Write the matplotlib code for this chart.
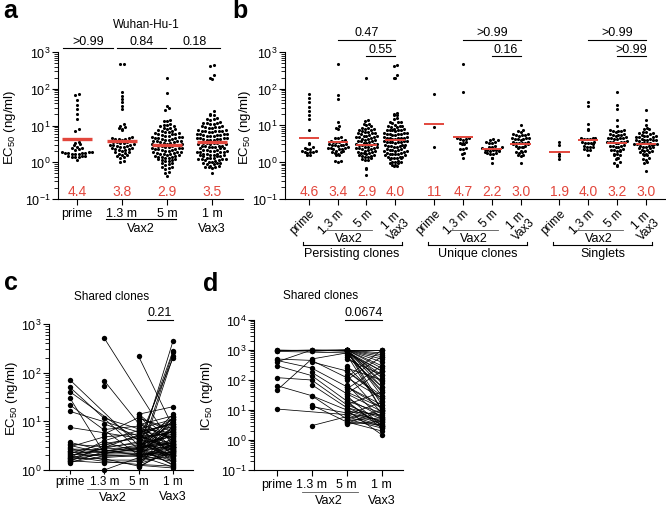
import numpy as np
import matplotlib
matplotlib.use("Agg")
import matplotlib.pyplot as plt
from matplotlib import transforms
from matplotlib.ticker import LogLocator

plt.rcParams['font.family'] = ['Liberation Sans', 'DejaVu Sans']
plt.rcParams['mathtext.fontset'] = 'custom'
plt.rcParams['mathtext.rm'] = 'Liberation Sans'
plt.rcParams['mathtext.it'] = 'Liberation Sans:italic'
plt.rcParams['mathtext.bf'] = 'Liberation Sans:bold'

W, H = 666, 506
nan = np.nan
RED = '#e2463c'

# ---- panel a: Wuhan-Hu-1 EC50 (ng/ml)
a_prime = [70, 68, 50, 37, 28, 20.5, 15, 7.8, 7.3, 3.5, 3.3, 3.15, 3.0, 2.55, 2.45, 2.4, 2.3, 2.2,
           1.95, 1.9, 1.85, 1.82, 1.8, 1.78, 1.75, 1.72, 1.7, 1.68, 1.52, 1.48, 1.45, 1.42, 1.4, 1.38, 1.15]
a_13m = [480, 460, 80, 65, 53, 43, 35, 28, 11, 10, 9, 8.5, 8, 7.5,
         4.9, 4.7, 4.6, 4.4, 4.3, 4.2, 4.1, 3.9, 3.8, 3.7, 3.6, 3.5, 3.45, 3.4, 3.3,
         3.1, 3.0, 2.95, 2.9, 2.8, 2.7, 2.65, 2.6, 2.45, 2.4, 2.35, 2.3, 2.2, 2.1, 2.05,
         1.95, 1.9, 1.8, 1.7, 1.6, 1.55, 1.45, 1.4, 1.3, 1.05, 1.0]
a_5m = [200, 76, 33, 30, 27, 14, 13.5, 13, 11, 10.6, 10.2, 9.9, 9.6, 8.6, 8.3, 8.0, 7.8, 7.5, 7.3,
        6.9, 6.7, 6.5, 6.3, 6.2, 6.0, 5.9, 5.8, 5.5, 5.3, 5.2, 5.0, 4.9, 4.8, 4.7, 4.6, 4.5,
        4.3, 4.2, 4.1, 4.0, 3.9, 3.8, 3.75, 3.7, 3.6, 3.55, 3.4, 3.3, 3.2, 3.15, 3.05, 3.0, 2.95, 2.9, 2.85, 2.8,
        2.7, 2.6, 2.55, 2.5, 2.45, 2.4, 2.35, 2.3, 2.25, 2.2, 2.1, 2.05, 2.0, 1.95, 1.9, 1.85, 1.8, 1.75, 1.72, 1.7,
        1.65, 1.6, 1.55, 1.5, 1.45, 1.42, 1.4, 1.36, 1.33, 1.28, 1.24, 1.2, 1.16, 1.12, 1.08, 1.05,
        0.98, 0.93, 0.88, 0.84, 0.76, 0.72, 0.68, 0.64, 0.55, 0.52, 0.43]
a_1m = [430, 410, 230, 200, 190, 25, 20.5, 19.5, 18.8, 15.8, 15.2, 14.8, 14.4, 12.4, 12.0, 11.7, 11.4, 11.1, 10.8,
        9.8, 9.5, 9.3, 9.1, 8.9, 8.7, 8.5, 7.7, 7.5, 7.3, 7.2, 7.1, 7.0, 6.9, 6.8, 6.6,
        6.0, 5.9, 5.8, 5.7, 5.6, 5.5, 5.4, 5.3, 5.2, 5.1, 4.7, 4.6, 4.5, 4.45, 4.4, 4.3, 4.2, 4.15, 4.1, 4.0,
        3.6, 3.5, 3.45, 3.4, 3.35, 3.3, 3.25, 3.2, 3.1, 3.05, 2.85, 2.8, 2.75, 2.7, 2.65, 2.6, 2.55, 2.5, 2.45, 2.4,
        2.2, 2.15, 2.1, 2.05, 2.0, 1.98, 1.95, 1.92, 1.9, 1.88, 1.72, 1.68, 1.65, 1.62, 1.6, 1.58, 1.55, 1.52, 1.5, 1.48,
        1.33, 1.3, 1.28, 1.25, 1.23, 1.21, 1.19, 1.17, 1.15, 1.05, 1.02, 1.0, 0.98, 0.96, 0.94, 0.92, 0.9,
        0.8, 0.78, 0.76, 0.74, 0.72, 0.7, 0.51]
a_cols = [a_prime, a_13m, a_5m, a_1m]
a_gm = ["4.4", "3.8", "2.9", "3.5"]
a_p = [">0.99", "0.84", "0.18"]

# ---- panel b: persisting / unique / singlets
b_pers_prime = [70, 55, 42, 32, 25, 19, 15, 7.5, 3.3, 3.1, 2.5, 2.4, 2.3, 2.2, 1.98, 1.95, 1.9, 1.85, 1.82, 1.8, 1.55, 1.5]
b_pers_13m = [480, 65, 52, 12, 9.5, 8.2, 7.8, 4.8, 4.6, 4.4, 3.9, 3.8, 3.7, 3.6, 3.5, 3.4, 3.1, 3.0, 2.95, 2.9,
              2.85, 2.8, 2.75, 2.5, 2.45, 2.4, 2.35, 2.3, 2.25, 2.2, 2.0, 1.95, 1.9, 1.85, 1.8, 1.6, 1.55, 1.5,
              1.08, 1.05, 1.02]
b_pers_5m = [200, 14, 13, 11, 10.6, 10.2, 9.8, 8.6, 8.3, 8.0, 7.8, 7.5, 7.3, 6.8, 6.6, 6.4, 6.3, 6.1, 6.0, 5.8,
             5.4, 5.2, 5.1, 5.0, 4.9, 4.8, 4.7, 4.6, 4.2, 4.1, 4.0, 3.9, 3.8, 3.75, 3.7, 3.6, 3.3, 3.2, 3.1, 3.05,
             3.0, 2.95, 2.9, 2.85, 2.6, 2.55, 2.5, 2.45, 2.4, 2.35, 2.3, 2.25, 2.05, 2.0, 1.95, 1.9, 1.85, 1.8,
             1.75, 1.7, 1.6, 1.55, 1.5, 1.45, 1.42, 1.38, 1.35, 1.25, 1.2, 1.15, 1.12, 0.66, 0.63, 0.45]
b_pers_1m = [430, 410, 230, 200, 195, 21, 20, 19.5, 19, 15.5, 15, 12.5, 12.2, 12, 11.7, 10, 9.8, 9.6, 9.4, 9.2, 9.0,
             8.0, 7.8, 7.6, 7.5, 7.4, 7.3, 7.2, 7.0, 6.2, 6.1, 6.0, 5.9, 5.8, 5.7, 5.6, 5.5, 5.4,
             4.8, 4.7, 4.6, 4.55, 4.5, 4.45, 4.4, 4.3, 4.2, 3.8, 3.7, 3.65, 3.6, 3.55, 3.5, 3.45, 3.4, 3.3,
             2.9, 2.85, 2.8, 2.75, 2.7, 2.65, 2.6, 2.55, 2.5, 2.25, 2.2, 2.15, 2.1, 2.05, 2.0, 1.98, 1.95, 1.9,
             1.75, 1.7, 1.68, 1.65, 1.62, 1.6, 1.58, 1.55, 1.38, 1.35, 1.32, 1.3, 1.28, 1.26, 1.24, 1.22,
             1.05, 1.02, 1.0, 0.98, 0.96, 0.94, 0.82, 0.8, 0.78, 0.76]
b_uniq_prime = [70, 9, 2.6]
b_uniq_13m = [470, 83, 4.6, 4.4, 4.3, 4.2, 4.0, 3.4, 3.3, 3.2, 3.1, 3.0, 2.4, 2.3, 2.2, 1.7, 1.6, 1.25]
b_uniq_5m = [4.2, 4.0, 3.9, 3.5, 3.4, 3.3, 3.2, 2.7, 2.6, 2.55, 2.5, 2.45, 2.25, 2.2, 2.15, 2.1, 2.05, 2.0,
             1.95, 1.9, 1.75, 1.7, 1.65, 1.6, 1.3, 1.25, 0.95]
b_uniq_1m = [10.3, 7.2, 6.8, 6.5, 5.8, 5.6, 5.5, 5.4, 5.3, 5.2, 4.6, 4.5, 4.4, 4.3, 4.2, 4.1, 4.0, 3.5, 3.4,
             3.35, 3.3, 3.25, 3.2, 3.1, 3.0, 2.7, 2.65, 2.6, 2.55, 2.5, 2.45, 2.0, 1.95, 1.9, 1.85, 1.8,
             1.55, 1.5, 1.45, 0.95]
b_sing_prime = [3.6, 2.8, 1.65, 1.45, 1.2]
b_sing_13m = [43, 33, 11, 8, 7.5, 4.6, 4.5, 4.4, 4.3, 4.2, 4.1, 3.5, 3.4, 3.3, 3.25, 3.2, 3.1, 2.7, 2.6, 2.55,
              2.5, 2.2, 2.15, 2.1, 1.5]
b_sing_5m = [79, 35, 28, 13.5, 9.5, 7.4, 7.2, 7.0, 6.9, 6.8, 6.6, 5.8, 5.6, 5.5, 5.4, 5.3, 5.2, 4.7, 4.6, 4.5,
             4.45, 4.4, 4.3, 4.2, 3.7, 3.6, 3.55, 3.5, 3.45, 3.4, 3.35, 3.3, 2.8, 2.75, 2.7, 2.65, 2.6, 2.55,
             2.2, 2.15, 2.1, 2.05, 2.0, 1.95, 1.65, 1.6, 1.55, 1.5, 1.3, 1.25, 1.2, 0.98, 0.94, 0.82, 0.78]
b_sing_1m = [26, 13.5, 10, 8.2, 8.0, 7.8, 6.5, 6.4, 6.2, 6.0, 5.9, 5.3, 5.2, 5.1, 5.0, 4.9, 4.8, 4.7, 4.2, 4.1,
             4.05, 4.0, 3.95, 3.9, 3.85, 3.8, 3.35, 3.3, 3.25, 3.2, 3.15, 3.1, 3.05, 3.0, 2.95, 2.7, 2.65, 2.6,
             2.55, 2.5, 2.45, 2.4, 2.1, 2.05, 2.0, 1.95, 1.9, 1.85, 1.65, 1.6, 1.55, 1.5, 1.25, 1.2, 1.15,
             0.98, 0.92, 0.55]
b_cols = [b_pers_prime, b_pers_13m, b_pers_5m, b_pers_1m,
          b_uniq_prime, b_uniq_13m, b_uniq_5m, b_uniq_1m,
          b_sing_prime, b_sing_13m, b_sing_5m, b_sing_1m]
b_gm = ["4.6", "3.4", "2.9", "4.0", "11", "4.7", "2.2", "3.0", "1.9", "4.0", "3.2", "3.0"]
b_groups = ["Persisting clones", "Unique clones", "Singlets"]
b_p = [[(1, 3, "0.47"), (2, 3, "0.55")], [(1, 3, ">0.99"), (2, 3, "0.16")], [(1, 3, ">0.99"), (2, 3, ">0.99")]]

# ---- panel c: shared clones EC50, (prime, 1.3 m, 5 m, 1 m)
c_traj = [
    [71, nan, 3.2, 5.5], [50, nan, 2.6, 3.0], [40.5, nan, 4.0, 8.0], [30, 2.2, nan, 3.5],
    [21.7, nan, 2.0, 2.4], [16, nan, 6.0, 9.0], [7.5, nan, 4.5, 6.0],
    [nan, 510, nan, 3.0], [nan, 68, 9.0, 4.0], [nan, 54, nan, nan], [nan, 11.5, 7.0, 11], [nan, 8.8, 5.0, 3.0],
    [nan, nan, 215, 7.5], [nan, nan, 2.3, 450], [nan, nan, 3.0, 282], [nan, nan, 1.8, 262],
    [nan, nan, 1.5, 215], [nan, nan, 4.0, 200], [nan, nan, 14, 20],
    [3.7, 2.5, 2.8, 4.2], [3.4, 3.0, 3.5, 2.0], [3.2, 2.2, 2.4, 6.5], [3.0, 4.8, 5.5, 2.6],
    [2.8, 1.8, 2.0, 3.1], [2.7, 2.6, nan, 1.5], [2.5, 2.4, 3.3, 5.0], [2.4, 1.6, 1.6, 2.2],
    [2.3, 2.3, 2.6, 12], [2.2, 3.5, 4.5, 1.8], [2.1, 2.0, 1.9, 2.9], [2.0, 2.7, 3.0, 3.6],
    [1.9, 1.5, 1.3, 1.2], [1.85, 2.1, 2.2, 7.8], [1.8, 4.0, 6.5, 4.6], [1.75, 1.7, 1.2, 2.5],
    [1.7, 2.9, nan, 9.5], [1.6, 2.2, 2.7, 1.3], [1.55, 1.4, 1.5, 3.4], [1.5, 3.2, 5.0, 5.5],
    [1.45, 1.9, 2.1, 2.0], [1.4, 2.4, 2.9, 14],
    [nan, 6.8, 8.0, 2.8], [nan, 5.5, 12, 6.0], [nan, 1.0, 1.8, 2.3], [nan, 3.8, 2.3, 10.5], [nan, 2.8, 3.8, 1.6],
    [nan, nan, 14, 3.9], [nan, nan, 13, 2.7], [nan, nan, 11.5, 7], [nan, nan, 10, 1.9], [nan, nan, 9.5, 4.4],
    [nan, nan, 8.5, 13], [nan, nan, 7.5, 2.1], [nan, nan, 7, 5.8], [nan, nan, 6.3, 3.3], [nan, nan, 6, 8.8],
    [nan, nan, 5.7, 1.4], [nan, nan, 5.2, 2.4], [nan, nan, 4.8, 11], [nan, nan, 4.3, 3.0], [nan, nan, 4.1, 6.3],
    [nan, nan, 3.9, 1.7], [nan, nan, 3.6, 4.9], [nan, nan, 3.4, 2.6], [nan, nan, 3.1, 9.0], [nan, nan, 2.95, 1.25],
    [nan, nan, 2.85, 3.7], [nan, nan, 2.75, 5.2], [nan, nan, 2.65, 2.0], [nan, nan, 2.5, 7.2], [nan, nan, 2.45, 1.55],
    [nan, nan, 2.35, 3.2], [nan, nan, 2.25, 4.0], [nan, nan, 2.15, 2.3], [nan, nan, 2.05, 6.8], [nan, nan, 1.95, 1.15],
    [nan, nan, 1.85, 2.7], [nan, nan, 1.75, 3.5], [nan, nan, 1.65, 12.5], [nan, nan, 1.55, 1.9], [nan, nan, 1.45, 4.7],
    [nan, nan, 1.35, 2.2], [nan, nan, 1.25, 1.1], [nan, nan, 1.2, 8.2], [nan, nan, 1.13, 3.0],
]
c_p = "0.21"

# ---- panel d: shared clones IC50
d_traj = [
    [1000, 1000, 1000, 1000], [1000, 950, 1000, 600], [950, 1000, 900, 150], [900, nan, 800, 40],
    [500, 450, 120, 25], [450, 250, 60, 12], [400, 1000, 1000, 300], [300, 140, 20, 8],
    [120, 100, 15, 5], [45, 500, 800, 200], [65, 30, 10, 4], [10.8, nan, 7, 3],
    [nan, 900, 1000, 80], [nan, 400, 200, 30], [nan, 180, 35, 9], [nan, 70, 12, 6],
    [nan, 30, 5, 2.5], [nan, 14.7, 4, 3.2], [nan, 13, 8, 4.5], [nan, 3.0, 6, nan],
    [nan, nan, 1000, 1000], [nan, nan, 1000, 800], [nan, nan, 1000, 500], [nan, nan, 1000, 250],
    [nan, nan, 1000, 120], [nan, nan, 1000, 60], [nan, nan, 1000, 30], [nan, nan, 1000, 15],
    [nan, nan, 1000, 700], [nan, nan, 1000, 400], [nan, nan, 1000, 90], [nan, nan, 1000, 10],
    [nan, nan, 900, 200], [nan, nan, 800, 45], [nan, nan, 700, 10], [nan, nan, 600, 60],
    [nan, nan, 500, 150], [nan, nan, 300, 20], [nan, nan, 250, 100], [nan, nan, 200, 25],
    [nan, nan, 150, 8], [nan, nan, 120, 1000], [nan, nan, 100, 600], [nan, nan, 70, 5],
    [nan, nan, 60, 15], [nan, nan, 50, 300], [nan, nan, 40, 12], [nan, nan, 35, 200],
    [nan, nan, 30, 3], [nan, nan, 25, 6], [nan, nan, 20, 2.5], [nan, nan, 18, 3],
    [nan, nan, 15, 40], [nan, nan, 12, 4], [nan, nan, 10, 1.5], [nan, nan, 9, 7],
    [nan, nan, 8, 3.5], [nan, nan, 7, 18], [nan, nan, 6, 2.8], [nan, nan, 5, 10],
    [nan, nan, 4.5, 5.5], [nan, nan, 4, 2], [nan, nan, 3.6, 9], [nan, nan, 3.4, 4.2],
]
d_p = "0.0674"

ticks4 = ["prime", "1.3 m", "5 m", "1 m"]

fig = plt.figure(figsize=(W / 100, H / 100), dpi=100)


def axes_px(x0, x1, ytop, ybot):
    return fig.add_axes([x0 / W, 1 - ybot / H, (x1 - x0) / W, (ybot - ytop) / H])


def style(ax, xlen=4, xpad=2, xsize=9):
    for s in ('top', 'right'):
        ax.spines[s].set_visible(False)
    for s in ('left', 'bottom'):
        ax.spines[s].set_linewidth(0.8)
    ax.set_yscale('log')
    ax.yaxis.set_major_locator(LogLocator(base=10, numticks=20))
    ax.yaxis.set_minor_locator(LogLocator(base=10, subs=np.arange(2, 10), numticks=20))
    ax.tick_params(axis='y', which='major', length=4, width=0.8, labelsize=9, pad=1.5)
    ax.tick_params(axis='x', which='major', length=xlen, width=0.8, labelsize=xsize, pad=xpad)
    ax.tick_params(axis='y', which='minor', length=3, width=0.6)
    ax.tick_params(axis='x', which='minor', length=0)
    ax.patch.set_alpha(0)


def blend(ax):
    return transforms.blended_transform_factory(ax.transData, fig.transFigure)


def btext(ax, x, y, s, **kw):
    kw.setdefault('fontsize', 9)
    ax.text(x, 1 - y / H, s, transform=blend(ax), ha='center', va='center', **kw)


def bline(ax, x0, x1, y, lw=0.8, color='k'):
    ax.plot([x0, x1], [1 - y / H] * 2, transform=blend(ax), color=color, lw=lw, clip_on=False)


def ftext(x, y, s, **kw):
    fig.text(x / W, 1 - y / H, s, **kw)


def swarm(ax, x0, vals, dy, dx, s):
    v = np.sort(np.asarray(vals, float))
    rows = np.floor(np.log10(v) / dy).astype(int)
    xs = np.empty_like(v)
    for r in np.unique(rows):
        idx = np.where(rows == r)[0]
        slots = np.arange(len(idx)) - (len(idx) - 1) / 2
        slots = slots[np.argsort(np.abs(slots), kind='stable')]
        xs[idx] = x0 + slots * dx
    ax.scatter(xs, v, s=s, c='k', lw=0, zorder=3, clip_on=False)


def paired(ax, traj):
    t = np.array(traj, float)
    xs = np.arange(t.shape[1])
    for row in t:
        ok = ~np.isnan(row)
        ax.plot(xs[ok], row[ok], color='k', lw=0.55, zorder=2)
    for j in xs:
        col = t[:, j]
        col = col[~np.isnan(col)]
        ax.scatter(np.full(len(col), j), col, s=15, c='k', lw=0, zorder=3, clip_on=False)


ylab = dict(rotation=90, ha='center', va='center', fontsize=9.5)
letter = dict(fontsize=18, fontweight='bold', va='baseline')

# ---------------- a
ax = axes_px(58, 243, 53, 200)
style(ax)
ax.set_xlim(-0.42, 3.69)
ax.set_ylim(0.1, 1000)
xa = np.arange(4)
for x, vals, g in zip(xa, a_cols, a_gm):
    swarm(ax, x, vals, 0.1, 0.0755, 5)
    ax.plot([x - 0.33, x + 0.33], [float(g)] * 2, color=RED, lw=2.4, zorder=4, solid_capstyle='butt')
    ax.text(x, 0.16, g, color=RED, ha='center', va='center', fontsize=10)
ax.set_xticks(xa, ticks4)
bline(ax, 0.65, 2.2, 220)
btext(ax, 1.42, 229, "Vax2")
btext(ax, 3, 229, "Vax3")
for (x0, x1), p in zip([(-0.31, 0.8), (0.89, 1.99), (2.07, 3.18)], a_p):
    bline(ax, x0, x1, 48.5)
    btext(ax, (x0 + x1) / 2, 42, p)
btext(ax, 1.55, 25, "Wuhan-Hu-1", fontsize=8.5)
ftext(10, 127, "EC$_{50}$ (ng/ml)", **ylab)
ftext(3, 18, "a", **letter)

# ---------------- b
ax = axes_px(285, 666, 53, 199.5)
style(ax, xsize=8.5)
ax.set_xlim(-0.83, 12.4)
ax.set_ylim(0.1, 1000)
offs = [0, 4.35, 8.7]
xb = np.concatenate([o + np.arange(4) for o in offs])
for x, vals, g in zip(xb, b_cols, b_gm):
    swarm(ax, x, vals, 0.1, 0.1, 5)
    ax.plot([x - 0.35, x + 0.35], [float(g)] * 2, color=RED, lw=1.4, zorder=4, solid_capstyle='butt')
    ax.text(x, 0.165, g, color=RED, ha='center', va='center', fontsize=10)
ax.set_xticks(xb, (ticks4[:3] + ["1 m\nVax3"]) * 3,
              rotation=45, ha='right', va='top', rotation_mode='anchor', multialignment='center', linespacing=1.0)
for o, name, pv in zip(offs, b_groups, b_p):
    bline(ax, o + 0.55, o + 2.2, 231, lw=0.6, color='#555555')
    btext(ax, o + 1.38, 239, "Vax2")
    bline(ax, o - 0.22, o + 3.23, 246)
    for xe in (o - 0.22, o + 3.23):
        ax.plot([xe, xe], [1 - 246 / H, 1 - 243 / H], transform=blend(ax), color='k', lw=0.8, clip_on=False)
    btext(ax, o + 1.5, 254, name)
    for (i, j, p), yb in zip(pv, (40.7, 57.3)):
        bline(ax, o + i, o + j, yb)
        btext(ax, o + (i + j) / 2, yb - 7.5, p)
ftext(245, 127, "EC$_{50}$ (ng/ml)", **ylab)
ftext(232, 18, "b", **letter)

# ---------------- c
ax = axes_px(49, 193, 325, 471)
style(ax, xlen=3, xpad=0.5, xsize=8.5)
ax.set_xlim(-0.61, 3.58)
ax.set_ylim(1, 1000)
paired(ax, c_traj)
ax.set_xticks(np.arange(4), ticks4)
bline(ax, 0.5, 2.05, 490, lw=0.6, color='#555555')
btext(ax, 1.26, 498, "Vax2")
btext(ax, 3, 497, "Vax3")
bline(ax, 2.25, 3.0, 320.7)
btext(ax, 2.62, 313, c_p)
btext(ax, 1.2, 297, "Shared clones", fontsize=8.5)
ftext(12, 398, "EC$_{50}$ (ng/ml)", **ylab)
ftext(4, 290, "c", **letter)

# ---------------- d
ax = axes_px(254, 403, 321, 471)
style(ax)
ax.set_xlim(-0.65, 3.61)
ax.set_ylim(0.1, 10000)
paired(ax, d_traj)
ax.set_xticks(np.arange(4), ticks4)
bline(ax, 0.71, 2.31, 493, lw=0.6, color='#555555')
btext(ax, 1.5, 501, "Vax2")
btext(ax, 3, 501, "Vax3")
bline(ax, 1.95, 3.0, 321)
btext(ax, 2.48, 313, d_p)
btext(ax, 1.25, 296, "Shared clones", fontsize=8.5)
ftext(207, 396, "IC$_{50}$ (ng/ml)", **ylab)
ftext(203, 291, "d", **letter)

fig.savefig("out.png", dpi=100)
